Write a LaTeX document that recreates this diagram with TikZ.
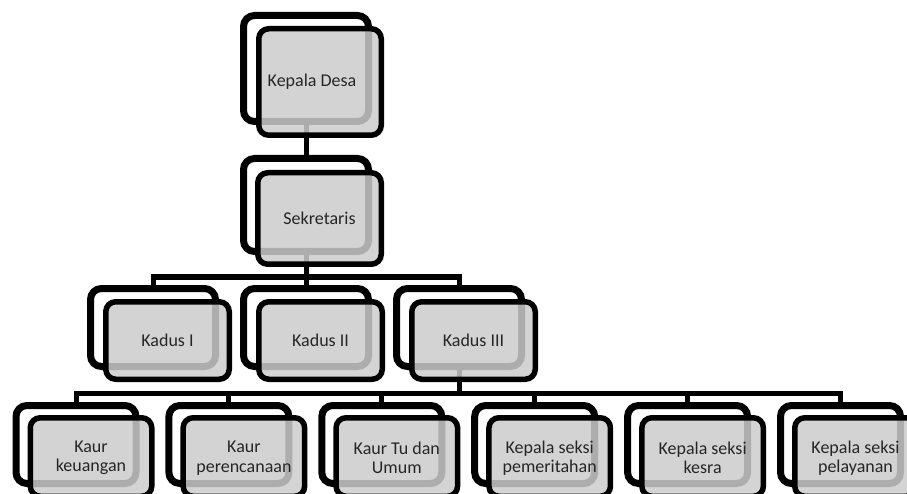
\documentclass[tikz,border=0pt]{standalone}
\usepackage{fontspec}
\setmainfont{Carlito}
\usetikzlibrary{backgrounds}
\tikzset{
  backframe/.style={draw=black, line width=7pt, fill=white, rounded corners=11pt, inner sep=0pt},
  frontbox/.style={draw=black, line width=5.5pt, fill=black!20, fill opacity=0.85, text opacity=1,
     rounded corners=10pt, inner sep=0pt, text=black!85, font=\fontsize{18}{19.5}\selectfont, align=center},
  conn/.style={draw=black, line width=5pt},
}
\begin{document}
\begin{tikzpicture}[x=1pt,y=-1pt]
\useasboundingbox (0,0) rectangle (907,494);
\clip (0,0) rectangle (907,494);
% top
\node[backframe, minimum width=125pt, minimum height=106pt] (kdb) at (306,68.5) {};
\node[frontbox, minimum width=122.5pt, minimum height=106.5pt] (kd) at (320,82) {\hspace*{-16pt}Kepala Desa};
% sekretaris
\node[backframe, minimum width=125pt, minimum height=93pt] (sekb) at (306,205) {};
\node[frontbox, minimum width=123.5pt, minimum height=91.5pt] (sek) at (319.5,218.5) {Sekretaris};
% kadus
\foreach \i/\t in {1/Kadus I,2/Kadus II,3/Kadus III}{
  \node[backframe, minimum width=125pt, minimum height=78pt] (kb\i) at ({153*\i},327.5) {};
  \node[frontbox, minimum width=123.5pt, minimum height=77.5pt] (k\i) at ({153*\i+14.5},340.5) {\t};
}
% bottom row
\foreach \i/\t in {1/{Kaur\\keuangan},2/{Kaur\\perencanaan},3/{Kaur Tu dan\\Umum},4/{Kepala seksi\\pemeritahan},5/{Kepala seksi\\kesra},6/{Kepala seksi\\pelayanan}}{
  \node[backframe, minimum width=120pt, minimum height=78pt] (bb\i) at ({76+152.9*(\i-1)},444.5) {};
  \node[frontbox, minimum width=121.5pt, minimum height=78.5pt] (b\i) at ({91+152.9*(\i-1)},457) {};
  \node[text=black!85, font=\fontsize{18}{19.5}\selectfont, align=center, inner sep=0pt] (t\i) at ({91+152.9*(\i-1)},458) {\t};
}
\coordinate (bus1) at (306,277);
\coordinate (bus2) at (459,393);
\begin{scope}[on background layer]
  \draw[conn] (kdb.south) -- (sekb.north);
  \draw[conn] (sekb.south) -- (kb2.north);
  \draw[conn] (kb1.north) |- (bus1) -| (kb3.north);
  \draw[conn] (kb3.south) -- (bus2);
  \draw[conn] (bb1.north) |- (bus2) -| (bb6.north);
  \foreach \i in {2,3,4,5}{
    \draw[conn] (bb\i.north) -- (bb\i.north |- bus2);
  }
\end{scope}
\end{tikzpicture}
\end{document}
